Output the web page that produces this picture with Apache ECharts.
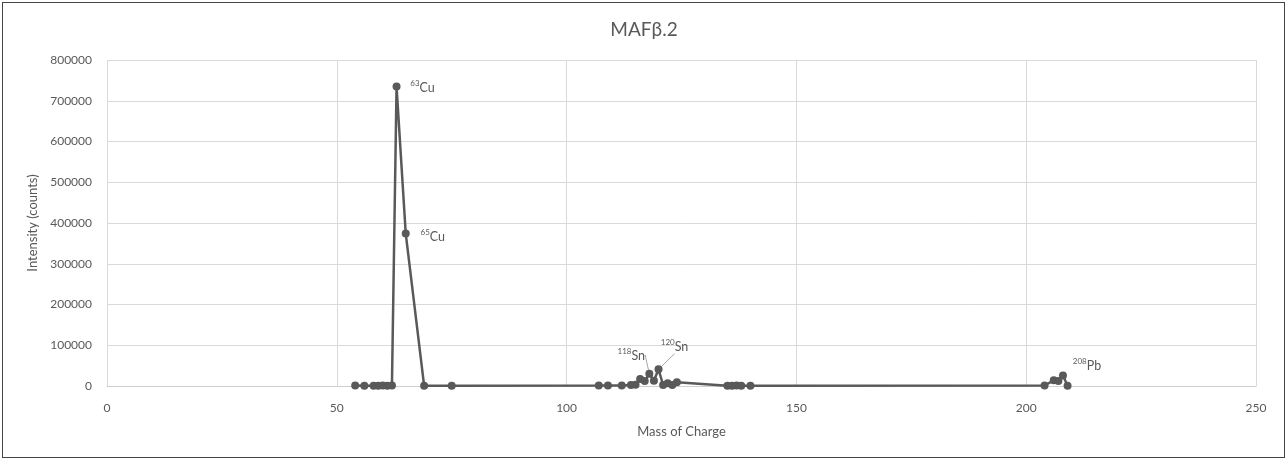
<!DOCTYPE html>
<html>
<head>
<meta charset="utf-8">
<script src="https://cdn.jsdelivr.net/npm/echarts@6/dist/echarts.min.js"></script>
<style>
  html, body { margin: 0; padding: 0; background: #ffffff; }
  #stage { position: relative; width: 1288px; height: 462px; overflow: hidden; background: #ffffff; }
  #frame { position: absolute; left: 2px; top: 2px; width: 1281px; height: 454px; border: 1.5px solid #454545; box-sizing: content-box; }
  #chart { position: absolute; left: 0; top: 0; width: 1288px; height: 462px; }
</style>
</head>
<body>
<div id="stage">
  <div id="frame"></div>
  <div id="chart"></div>
</div>
<script>
// Mass spectrum of sample MAFβ.2: intensity (counts) against mass-to-charge
const chartTitle = 'MAFβ.2';
const xAxisTitle = 'Mass of Charge';
const yAxisTitle = 'Intensity (counts)';

const massNumbers = [
  54, 56, 58, 59, 60, 61, 62, 63, 65, 69, 75,
  107, 109, 112, 114, 115, 116, 117, 118, 119, 120, 121, 122, 123, 124,
  135, 136, 137, 138, 140,
  204, 206, 207, 208, 209
];
const intensities = [
  1200, 900, 700, 800, 1000, 900, 1500, 735000, 374000, 900, 800,
  1000, 1100, 1500, 2500, 3000, 17000, 12000, 30000, 13000, 41000, 2500, 6500, 2500, 9000,
  800, 900, 1000, 900, 700,
  1200, 14000, 12000, 26000, 800
];

// Isotope annotations: mass number -> [superscript, element]
const isotopeLabels = {
  63: ['63', 'Cu'],
  65: ['65', 'Cu'],
  118: ['118', 'Sn'],
  120: ['120', 'Sn'],
  208: ['208', 'Pb']
};
// Label shift from its point (px) and whether a leader line is drawn
const labelShift = {
  63: [26, 0, false],
  65: [27, 2, false],
  118: [-18, -19, true],
  120: [16, -23, true],
  208: [24, -10, false]
};

const xTicks = [0, 50, 100, 150, 200, 250];
const yTicks = [0, 100000, 200000, 300000, 400000, 500000, 600000, 700000, 800000];

const FONT = 'Lato, "Open Sans", sans-serif';
const TEXT = '#595959';
const GRID = '#d9d9d9';
const SERIES = '#595959';

const seriesData = massNumbers.map(function (m, i) {
  const item = { value: [m, intensities[i]] };
  const lab = isotopeLabels[m];
  if (lab) {
    item.label = {
      show: true,
      position: 'inside',
      formatter: '{s|' + lab[0] + '}{e|' + lab[1] + '}'
    };
    item.labelLine = { show: labelShift[m][2] };
  }
  return item;
});

const chart = echarts.init(document.getElementById('chart'), null, { renderer: 'canvas' });
chart.setOption({
  animation: false,
  backgroundColor: 'transparent',
  title: {
    text: chartTitle,
    left: 'center',
    top: 15,
    textStyle: { fontFamily: FONT, fontSize: 19, fontWeight: 'normal', color: TEXT }
  },
  grid: { left: 107, right: 32, top: 60, bottom: 76, containLabel: false },
  xAxis: {
    type: 'value',
    min: xTicks[0],
    max: xTicks[xTicks.length - 1],
    interval: 50,
    name: xAxisTitle,
    nameLocation: 'middle',
    nameGap: 39,
    nameTextStyle: { fontFamily: FONT, fontSize: 13, color: TEXT },
    axisLine: { show: true, lineStyle: { color: '#cfcfcf', width: 1 } },
    axisTick: { show: false },
    axisLabel: { fontFamily: FONT, fontSize: 12, color: TEXT, margin: 16 },
    splitLine: { show: true, lineStyle: { color: GRID, width: 1 } }
  },
  yAxis: {
    type: 'value',
    min: yTicks[0],
    max: yTicks[yTicks.length - 1],
    interval: 100000,
    name: yAxisTitle,
    nameLocation: 'middle',
    nameGap: 67,
    nameTextStyle: { fontFamily: FONT, fontSize: 13, color: TEXT },
    axisLine: { show: false },
    axisTick: { show: false },
    axisLabel: {
      fontFamily: FONT, fontSize: 12, color: TEXT, margin: 15,
      formatter: function (v) { return String(v); }
    },
    splitLine: { show: true, lineStyle: { color: GRID, width: 1 } }
  },
  series: [{
    type: 'line',
    data: seriesData,
    symbol: 'circle',
    symbolSize: 8,
    lineStyle: { color: SERIES, width: 2.5 },
    itemStyle: { color: SERIES },
    label: {
      show: false,
      color: TEXT,
      fontFamily: FONT,
      rich: {
        s: { fontFamily: FONT, fontSize: 8, color: TEXT, verticalAlign: 'top', lineHeight: 15 },
        e: { fontFamily: FONT, fontSize: 12.5, color: TEXT, verticalAlign: 'bottom', lineHeight: 15 }
      }
    },
    labelLine: { show: false, lineStyle: { color: '#a6a6a6', width: 1 } },
    labelLayout: function (params) {
      const m = massNumbers[params.dataIndex];
      const s = labelShift[m];
      return s ? { dx: s[0], dy: s[1] } : {};
    },
    emphasis: { disabled: true }
  }]
});
</script>
</body>
</html>
